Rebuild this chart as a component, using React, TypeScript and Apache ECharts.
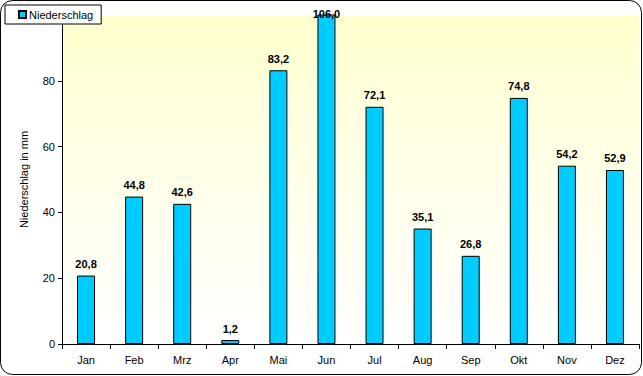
import React, { useEffect, useRef } from "react";
import * as echarts from "echarts";

const months = ["Jan", "Feb", "Mrz", "Apr", "Mai", "Jun", "Jul", "Aug", "Sep", "Okt", "Nov", "Dez"];
const niederschlag = [20.8, 44.8, 42.6, 1.2, 83.2, 106.0, 72.1, 35.1, 26.8, 74.8, 54.2, 52.9];
const yTicks = [0, 20, 40, 60, 80];

const FONT = "'Liberation Sans', Arial, sans-serif";

export default function App() {
  const ref = useRef<HTMLDivElement>(null);
  useEffect(() => {
    const chart = echarts.init(ref.current!, null, { renderer: "svg" });
    const yMax = 100;
    chart.setOption({
      animation: false,
      backgroundColor: "#ffffff",
      textStyle: { fontFamily: FONT },
      graphic: [
        {
          type: "rect",
          z: 100,
          silent: true,
          shape: { x: 0.5, y: 0.5, width: 641, height: 374, r: 12 },
          style: { fill: "none", stroke: "#000", lineWidth: 1 },
        },
      ],
      legend: {
        left: 5,
        top: 5,
        z: 50,
        backgroundColor: "#fff",
        borderColor: "#000",
        borderWidth: 1,
        borderRadius: 0,
        padding: [4, 8, 4, 13],
        icon: "rect",
        itemWidth: 7,
        itemHeight: 7,
        itemGap: 4,
        textStyle: { fontFamily: FONT, fontSize: 11, color: "#000", padding: [0, 0, 0, -2] },
        data: ["Niederschlag"],
      },
      grid: {
        left: 62,
        right: 4,
        top: 15,
        bottom: 32,
        show: true,
        borderWidth: 0,
        backgroundColor: {
          type: "linear",
          x: 0,
          y: 0,
          x2: 0,
          y2: 1,
          colorStops: [
            { offset: 0, color: "#ffffcc" },
            { offset: 0.3, color: "#ffffe0" },
            { offset: 1, color: "#ffffff" },
          ],
        },
      },
      xAxis: {
        type: "category",
        data: months,
        axisLine: { lineStyle: { color: "#000", width: 1 } },
        axisTick: { show: true, length: 5, lineStyle: { color: "#000" } },
        axisLabel: { color: "#000", fontSize: 11, fontFamily: FONT, margin: 10 },
      },
      yAxis: {
        type: "value",
        min: 0,
        max: yMax,
        interval: 20,
        name: "Niederschlag in mm",
        nameLocation: "middle",
        nameGap: 33,
        nameTextStyle: { color: "#000", fontSize: 11, fontFamily: FONT },
        splitLine: { show: false },
        axisLine: { show: true, lineStyle: { color: "#000", width: 1 } },
        axisTick: {
          show: true,
          length: 4,
          lineStyle: { color: "#000" },
          customValues: yTicks,
        },
        axisLabel: {
          color: "#000",
          fontSize: 11,
          fontFamily: FONT,
          margin: 7,
          customValues: yTicks,
        },
      },
      series: [
        {
          name: "Niederschlag",
          type: "bar",
          barWidth: 18,
          itemStyle: { color: "#00ccff", borderColor: "#000", borderWidth: 1 },
          label: {
            show: true,
            position: "top",
            distance: 6,
            color: "#000",
            fontWeight: "bold",
            fontSize: 11,
            fontFamily: FONT,
            formatter: (p: any) => Number(p.value).toFixed(1).replace(".", ","),
          },
          data: niederschlag.map((v) =>
            v > yMax
              ? { value: v, label: { position: "insideTop", distance: -6 } }
              : v
          ),
        },
      ],
    });
    return () => chart.dispose();
  }, []);
  return (
    <div
      ref={ref}
      style={{ position: "fixed", left: 0, top: 0, width: 643, height: 376 }}
    />
  );
}
